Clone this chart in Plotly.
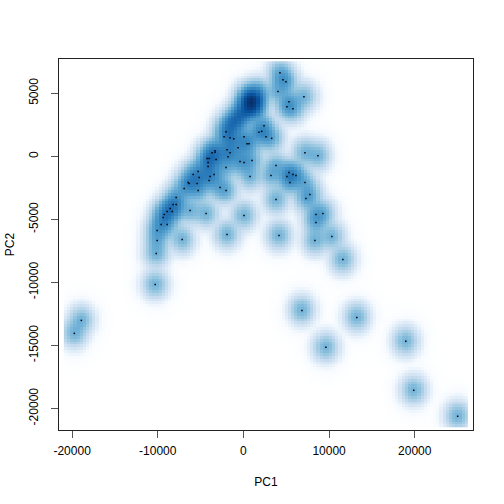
import numpy as np
import plotly.graph_objects as go

# Low-density samples (drawn as dots by smoothScatter)
pc1_pts = [4033, 2401, 1818, 2133, 2634, 3298, -2028, -2261, -1562, -1131, 70, 420, 653,
           -1911, -3310, -3310, -3660, -1562, -629, -1795, -4242, -4009, -3193, -4126, -396,
           70, 1002, -4126, -2028, 3800, 3217, 769, -5291, -5874, -5175, -3427, -3893, -4009,
           -6457, -6340, -5408, -6923, -2727, -2028, -5291, -7855, 3800, -8205, -7855, -8555,
           -8904, -8322, -9254, -9371, -6224, -4359, 70, -9604, -8904, -10070, -1911, 4149,
           -10070, -7156, -10186, 4266, 4615, 4965, 7063, 5315, 5082, 5781, 7180, 8695, 5315,
           5082, 5781, 6130, 5431, 7180, 7762, 7296, 8462, 9277, 8462, 8345, 10326, 11608,
           -10303, -18928, -19744, 6830, 13240, 9627, 18951, 19883, 25012]
pc2_pts = [5148, 2431, 1901, 1980, 1560, 1426, 1956, 1560, 1481, 1402, 1560, 1006, 1006,
           531, 451, 317, 293, 293, 689, -24, -182, -182, -261, -499, -420,
           -499, -341, -816, -895, -737, -1529, -1608, -1212, -1449, -1687, -1449, -1608, -1925,
           -2083, -2162, -2162, -2558, -2479, -2717, -2717, -3271, -3429, -3825, -3825, -4142,
           -4380, -4380, -4617, -4855, -4301, -4538, -4697, -5409, -5409, -5885, -6201, -6281,
           -6677, -6597, -7706, 6629, 6075, 5916, 4728, 4332, 3936, 3778, 293, 55, -1291,
           -1608, -1449, -1529, -2083, -2083, -3033, -3350, -4617, -4538, -5251, -6677, -6360, -8182,
           -10162, -13013, -14042, -12221, -12775, -15151, -14676, -18557, -20616]

# High-density core (positions and number of samples at each)
pc1_core = [967, 734, 1317, 385, 1550, 35, -431, -897, -1364, 1783, 1084, -1830, 385]
pc2_core = [4277, 4673, 3960, 3960, 4673, 3485, 3168, 2851, 2534, 5148, 3564, 2297, 4514]
n_core = [4, 3, 3, 2, 2, 2, 2, 2, 2, 1, 1, 1, 1]

# kernel bandwidth (PC1, PC2) of the smoothing
bandwidth = [690, 530]

blues9 = ["#F7FBFF", "#DEEBF7", "#C6DBEF", "#9ECAE1", "#6BAED6",
          "#4292C6", "#2171B5", "#08519C", "#08306B"]

x = np.concatenate([np.array(pc1_pts, float), np.repeat(pc1_core, n_core).astype(float)])
y = np.concatenate([np.array(pc2_pts, float), np.repeat(pc2_core, n_core).astype(float)])

# bkde2D-like: linear binning on a 128x128 grid, then Gaussian smoothing
hx, hy = bandwidth
nb = 128
gx = np.linspace(x.min() - 1.5 * hx, x.max() + 1.5 * hx, nb)
gy = np.linspace(y.min() - 1.5 * hy, y.max() + 1.5 * hy, nb)
def lin_bin(v, g):
    d = g[1] - g[0]
    t = (v - g[0]) / d
    i0 = np.clip(np.floor(t).astype(int), 0, len(g) - 2)
    w1 = t - i0
    return i0, 1 - w1, w1
ix, wx0, wx1 = lin_bin(x, gx)
iy, wy0, wy1 = lin_bin(y, gy)
C = np.zeros((nb, nb))
np.add.at(C, (iy, ix), wy0 * wx0)
np.add.at(C, (iy, ix + 1), wy0 * wx1)
np.add.at(C, (iy + 1, ix), wy1 * wx0)
np.add.at(C, (iy + 1, ix + 1), wy1 * wx1)
Kx = np.exp(-0.5 * ((gx[:, None] - gx[None, :]) / hx) ** 2)
Ky = np.exp(-0.5 * ((gy[:, None] - gy[None, :]) / hy) ** 2)
dens = Ky @ C @ Kx.T / (len(x) * 2 * np.pi * hx * hy)
z = np.clip(dens, 0, None) ** 0.25

cs = [[0.0, "#FFFFFF"]] + [[(i + 1) / 9, c] for i, c in enumerate(blues9)]

fig = go.Figure()
fig.add_trace(go.Heatmap(x=gx, y=gy, z=z, colorscale=cs, zmin=float(z.min()), zmax=float(z.max()),
                         showscale=False, zsmooth=False, hoverinfo="skip"))
fig.add_trace(go.Scatter(x=pc1_pts, y=pc2_pts, mode="markers",
                         marker=dict(symbol="square", size=1.5, color="black", line=dict(width=0)),
                         showlegend=False))

xr = [x.min(), x.max()]
yr = [y.min(), y.max()]
dx = 0.04 * (xr[1] - xr[0])
dy = 0.04 * (yr[1] - yr[0])

font = dict(family="Liberation Sans, Arial", size=12, color="black")
axis_common = dict(showgrid=False, zeroline=False, showline=True, mirror=True,
                   linecolor="#222", linewidth=1, ticks="outside", ticklen=7,
                   tickcolor="#555", tickwidth=1, tickfont=font, title_font=font,
                   automargin=False)

xt = [-20000, -10000, 0, 10000, 20000]
yt = [-20000, -15000, -10000, -5000, 0, 5000]
fig.update_layout(
    width=504, height=504,
    margin=dict(l=59, r=31, t=59, b=74),
    paper_bgcolor="white", plot_bgcolor="white",
    xaxis=dict(range=[xr[0] - dx, xr[1] + dx], tickvals=xt, ticktext=[str(v) for v in xt],
               title=dict(text="PC1", standoff=20), ticklabelstandoff=3, **axis_common),
    yaxis=dict(range=[yr[0] - dy, yr[1] + dy], tickvals=yt, ticktext=[str(v) for v in yt],
               tickangle=-90, title=dict(text="PC2", standoff=10), ticklabelstandoff=8,
               **axis_common),
)
fig.write_html("out.html")
